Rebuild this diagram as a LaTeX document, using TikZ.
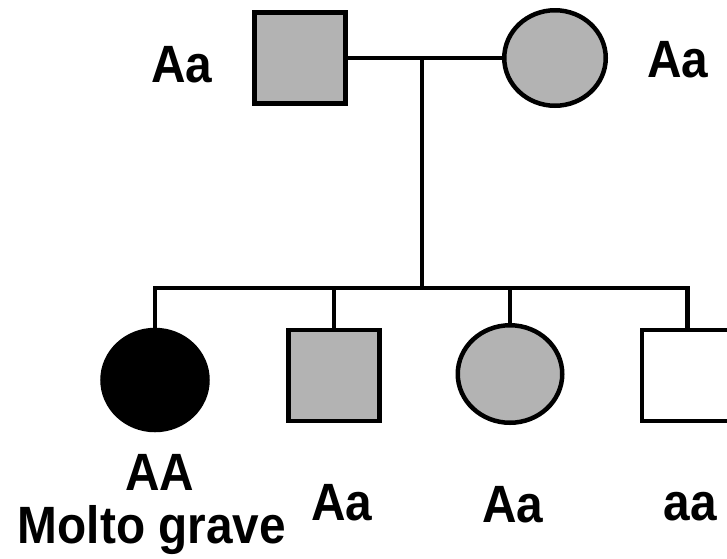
\documentclass[tikz,border=0pt]{standalone}
\usepackage{fontspec}
\setmainfont{Liberation Sans}[FakeStretch=0.91]
\usetikzlibrary{shapes.geometric}
\definecolor{carrier}{RGB}{179,179,179}
\begin{document}
\begin{tikzpicture}[x=1pt,y=-1pt,
  person/.style={draw=black, line width=4.5pt, inner sep=0pt},
  male/.style={person, rectangle, minimum size=91pt},
  female/.style={person, ellipse},
  geno/.style={font=\bfseries\fontsize{52.5}{54}\selectfont, inner sep=0pt, anchor=base},
  link/.style={line width=4.5pt}]
\useasboundingbox (0,0) rectangle (727,558);

% parents
\node[male, fill=carrier] (father) at (300,58) {};
\node[female, fill=carrier, minimum width=101.5pt, minimum height=95.5pt] (mother) at (555,58) {};

% children
\node[female, fill=black, minimum width=105pt, minimum height=100pt] (c1) at (155,380) {};
\node[male, fill=carrier] (c2) at (334,375.5) {};
\node[female, fill=carrier, minimum width=104.5pt, minimum height=97.5pt] (c3) at (510,374) {};
\node[male, fill=white] (c4) at (687.5,375.5) {};

% marriage line and descent
\coordinate (m) at (422,58);
\coordinate (sl) at (422,288);
\draw[link] (father.east) -- (mother.west);
\draw[link] (m) -- (sl);
\draw[link] (c1.north) |- (c4.north |- sl) -- (c4.north);
\draw[link] (c2.north) -- (c2.north |- sl);
\draw[link] (c3.north) -- (c3.north |- sl);

% genotypes
\node[geno] (gf) at (182,82) {Aa};
\node[geno] (gm) at (678,77) {Aa};
\node[geno] (g1) at (160,490) {AA};
\node[geno] (g1b) at (152,543) {Molto grave};
\node[geno] (g2) at (342,520) {Aa};
\node[geno] (g3) at (513,522) {Aa};
\node[geno] (g4) at (690,520) {aa};
\end{tikzpicture}
\end{document}
